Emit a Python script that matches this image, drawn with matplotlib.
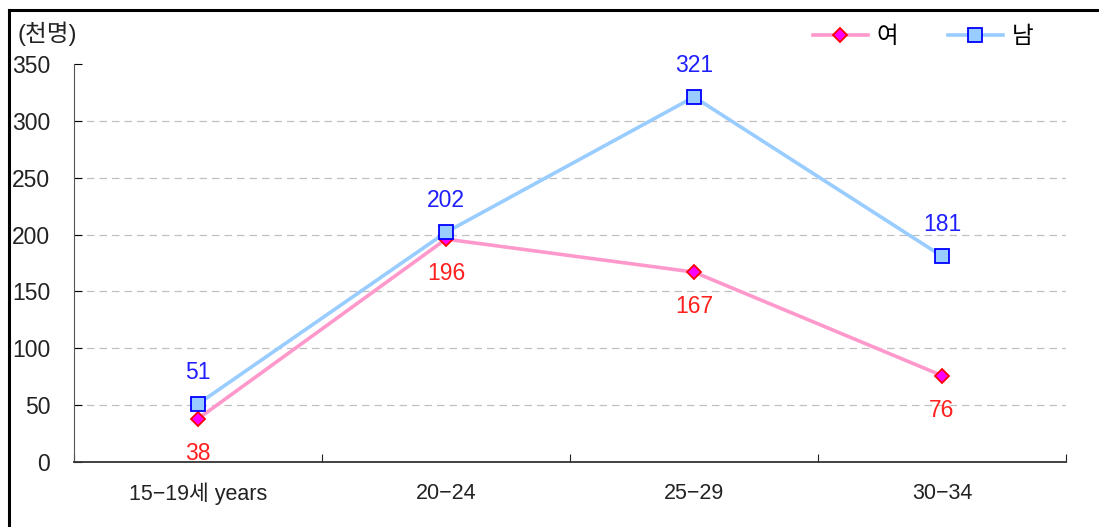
import matplotlib.pyplot as plt
from matplotlib.lines import Line2D

plt.rcParams['font.family'] = ['Liberation Sans', 'Noto Sans CJK KR', 'DejaVu Sans']

# age groups and counts (thousands)
groups = ['15−19세 years', '20−24', '25−29', '30−34']
female = [38, 196, 167, 76]
male = [51, 202, 321, 181]
yticks = [0, 50, 100, 150, 200, 250, 300, 350]

fig = plt.figure(figsize=(10.99, 5.27), dpi=100)
ax = fig.add_axes([0.0673, 0.1233, 0.9027, 0.7553])

xs = [i + 0.5 for i in range(len(groups))]

ax.plot(xs, female, color='#FF99CC', lw=2.6, marker='D', markersize=7.5,
        markerfacecolor='#FF00FF', markeredgecolor='#FF0000', markeredgewidth=1.3,
        label='여', zorder=3)
ax.plot(xs, male, color='#99CCFF', lw=2.6, marker='s', markersize=9.5,
        markerfacecolor='#99CCFF', markeredgecolor='#0000FF', markeredgewidth=1.3,
        label='남', zorder=4)

for x, v in zip(xs, female):
    ax.annotate(str(v), (x, v), xytext=(0, -25), textcoords='offset points',
                ha='center', va='center', color='#FF2020', fontsize=16.5)
for x, v in zip(xs, male):
    ax.annotate(str(v), (x, v), xytext=(0, 23), textcoords='offset points',
                ha='center', va='center', color='#2020FF', fontsize=16.5)

ax.set_xlim(0, 4)
ax.set_ylim(0, 350)
ax.set_yticks(yticks)
ax.set_yticklabels([str(t) for t in yticks])
for t in yticks[1:-1]:
    ax.axhline(t, color='#C0C0C0', lw=0.9, ls=(0, (6, 4)), zorder=1)

ax.set_xticks(range(5))
ax.set_xticklabels([])
ax.set_xticks(xs, minor=True)
ax.set_xticklabels(groups, minor=True)
ax.tick_params(axis='x', which='major', direction='in', length=6, color='#222222')
ax.tick_params(axis='x', which='minor', length=0, pad=15, labelsize=15.5, labelcolor='#222222')
ax.tick_params(axis='y', direction='in', length=6, pad=17, labelsize=16.5, labelcolor='#222222')

for s in ['top', 'right']:
    ax.spines[s].set_visible(False)
ax.spines['left'].set_color('#555555')
ax.spines['bottom'].set_color('#333333')
ax.spines['bottom'].set_linewidth(1.3)

fig.text(0.016, 0.935, '(천명)', fontsize=17, color='#222222', va='center')

fig.legend(loc='center right', bbox_to_anchor=(0.96, 0.93), ncol=2, frameon=False,
           fontsize=17, handlelength=2.3, columnspacing=2.1, handletextpad=0.4)

# frame along the left and top edges
fig.add_artist(Line2D([0.0085, 0.0085], [0, 0.981], color='black', lw=2.2,
                      transform=fig.transFigure))
fig.add_artist(Line2D([0.0085, 1], [0.981, 0.981], color='black', lw=2.2,
                      transform=fig.transFigure))

fig.savefig('out.png', dpi=100)
